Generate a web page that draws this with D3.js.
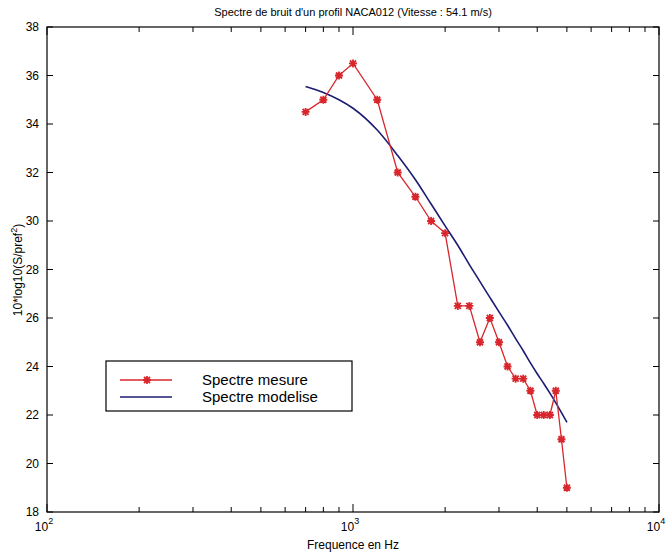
<!DOCTYPE html>
<html lang="fr">
<head>
<meta charset="utf-8">
<title>Spectre de bruit</title>
<script src="https://d3js.org/d3.v7.min.js"></script>
<style>
    body {
        margin: 0;
        background: #fff;
    }

    svg {
        display: block;
        font-family: "Liberation Sans", Arial, sans-serif;
    }
</style>
</head>
<body>
<div id="chart"></div>
<script>
    // Data
    var freqs = [700, 800, 900, 1000, 1200, 1400, 1600, 1800, 2000, 2200, 2400, 2600,
        2800, 3000, 3200, 3400, 3600, 3800, 4000, 4200, 4400, 4600, 4800, 5000];
    var mesure = [34.5, 35, 36, 36.5, 35, 32, 31, 30, 29.5, 26.5, 26.5, 25,
        26, 25, 24, 23.5, 23.5, 23, 22, 22, 22, 23, 21, 19];
    var modele = [35.55, 35.3, 35.0, 34.65, 33.75, 32.7, 31.7, 30.7, 29.8, 29.0, 28.2, 27.5,
        26.85, 26.25, 25.7, 25.15, 24.65, 24.15, 23.7, 23.3, 22.9, 22.5, 22.1, 21.7];
    var yTicks = [18, 20, 22, 24, 26, 28, 30, 32, 34, 36, 38];
    var xMajor = [100, 1000, 10000];
    var xMinor = [200, 300, 400, 500, 600, 700, 800, 900, 2000, 3000, 4000, 5000, 6000, 7000, 8000, 9000];
    var legendLabels = ["Spectre mesure", "Spectre modelise"];

    var width = 670;
    var height = 557;
    var plotLeft = 47, plotRight = 659, plotTop = 27, plotBottom = 512;

    var red = "#d8262c";
    var blue = "#1c1c72";

    var svg = d3.select("#chart").append("svg")
        .attr("width", width)
        .attr("height", height);

    var xScale = d3.scaleLog()
        .domain([100, 10000])
        .range([plotLeft, plotRight]);

    var yScale = d3.scaleLinear()
        .domain([18, 38])
        .range([plotBottom, plotTop]);

    // frame
    svg.append("rect")
        .attr("x", plotLeft)
        .attr("y", plotTop)
        .attr("width", plotRight - plotLeft)
        .attr("height", plotBottom - plotTop)
        .attr("fill", "none")
        .attr("stroke", "#000")
        .attr("stroke-width", 1.2);

    // x ticks (inward, bottom and top)
    var xt = xMajor.map(function(d) { return {v: d, len: 8}; })
        .concat(xMinor.map(function(d) { return {v: d, len: 5}; }));
    svg.selectAll(".xtb").data(xt).enter().append("line")
        .attr("x1", function(d) { return xScale(d.v); })
        .attr("x2", function(d) { return xScale(d.v); })
        .attr("y1", plotBottom)
        .attr("y2", function(d) { return plotBottom - d.len; })
        .attr("stroke", "#000");
    svg.selectAll(".xtt").data(xt).enter().append("line")
        .attr("x1", function(d) { return xScale(d.v); })
        .attr("x2", function(d) { return xScale(d.v); })
        .attr("y1", plotTop)
        .attr("y2", function(d) { return plotTop + d.len; })
        .attr("stroke", "#000");

    // y ticks (inward, left and right)
    svg.selectAll(".ytl").data(yTicks).enter().append("line")
        .attr("x1", plotLeft)
        .attr("x2", plotLeft + 6)
        .attr("y1", function(d) { return yScale(d); })
        .attr("y2", function(d) { return yScale(d); })
        .attr("stroke", "#000");
    svg.selectAll(".ytr").data(yTicks).enter().append("line")
        .attr("x1", plotRight)
        .attr("x2", plotRight - 6)
        .attr("y1", function(d) { return yScale(d); })
        .attr("y2", function(d) { return yScale(d); })
        .attr("stroke", "#000");

    svg.selectAll(".ylab").data(yTicks).enter().append("text")
        .attr("x", plotLeft - 8)
        .attr("y", function(d) { return yScale(d) + 4; })
        .attr("text-anchor", "end")
        .attr("font-size", "12px")
        .text(function(d) { return d; });

    var xl = svg.selectAll(".xlab").data(xMajor).enter().append("text")
        .attr("x", function(d) { return xScale(d) - 3; })
        .attr("y", plotBottom + 19)
        .attr("text-anchor", "middle")
        .attr("font-size", "12px");
    xl.append("tspan").text("10");
    xl.append("tspan")
        .attr("dy", -7)
        .attr("font-size", "9px")
        .text(function(d) { return Math.round(Math.log10(d)); });

    // titles
    svg.append("text")
        .attr("x", 353)
        .attr("y", 16)
        .attr("text-anchor", "middle")
        .attr("font-size", "11px")
        .text("Spectre de bruit d'un profil NACA012 (Vitesse : 54.1 m/s)");

    svg.append("text")
        .attr("x", 353)
        .attr("y", 549)
        .attr("text-anchor", "middle")
        .attr("font-size", "12px")
        .text("Frequence en Hz");

    var yt = svg.append("text")
        .attr("transform", "translate(22," + 270 + ") rotate(-90)")
        .attr("text-anchor", "middle")
        .attr("font-size", "12px");
    yt.append("tspan").text("10*log10(S/pref");
    yt.append("tspan").attr("dy", -5).attr("font-size", "9px").text("2");
    yt.append("tspan").attr("dy", 5).text(")");

    // series
    var mesPts = freqs.map(function(f, i) { return [f, mesure[i]]; });
    var modPts = freqs.map(function(f, i) { return [f, modele[i]]; });

    var line = d3.line()
        .x(function(d) { return xScale(d[0]); })
        .y(function(d) { return yScale(d[1]); });

    var curve = d3.line()
        .curve(d3.curveMonotoneX)
        .x(function(d) { return xScale(d[0]); })
        .y(function(d) { return yScale(d[1]); });

    svg.append("path")
        .datum(modPts)
        .attr("d", curve)
        .attr("fill", "none")
        .attr("stroke", blue)
        .attr("stroke-width", 1.6);

    svg.append("path")
        .datum(mesPts)
        .attr("d", line)
        .attr("fill", "none")
        .attr("stroke", red)
        .attr("stroke-width", 1.3);

    var star = "M-4,0L4,0M0,-4L0,4M-3,-3L3,3M-3,3L3,-3";
    svg.selectAll(".mk").data(mesPts).enter().append("path")
        .attr("transform", function(d) { return "translate(" + xScale(d[0]) + "," + yScale(d[1]) + ")"; })
        .attr("d", star)
        .attr("stroke", red)
        .attr("stroke-width", 1.8);

    // legend
    var lg = svg.append("g");
    lg.append("rect")
        .attr("x", 106)
        .attr("y", 361)
        .attr("width", 246)
        .attr("height", 50)
        .attr("fill", "#fff")
        .attr("stroke", "#000")
        .attr("stroke-width", 1.2);
    lg.append("line")
        .attr("x1", 120).attr("x2", 172)
        .attr("y1", 380).attr("y2", 380)
        .attr("stroke", red).attr("stroke-width", 1.3);
    lg.append("path")
        .attr("transform", "translate(147,380)")
        .attr("d", star)
        .attr("stroke", red)
        .attr("stroke-width", 1.8);
    lg.append("line")
        .attr("x1", 120).attr("x2", 172)
        .attr("y1", 397).attr("y2", 397)
        .attr("stroke", blue).attr("stroke-width", 1.6);
    lg.selectAll(".lt").data(legendLabels).enter().append("text")
        .attr("x", 202)
        .attr("y", function(d, i) { return 385 + i * 17; })
        .attr("font-size", "15px")
        .text(function(d) { return d; });
</script>
</body>
</html>
